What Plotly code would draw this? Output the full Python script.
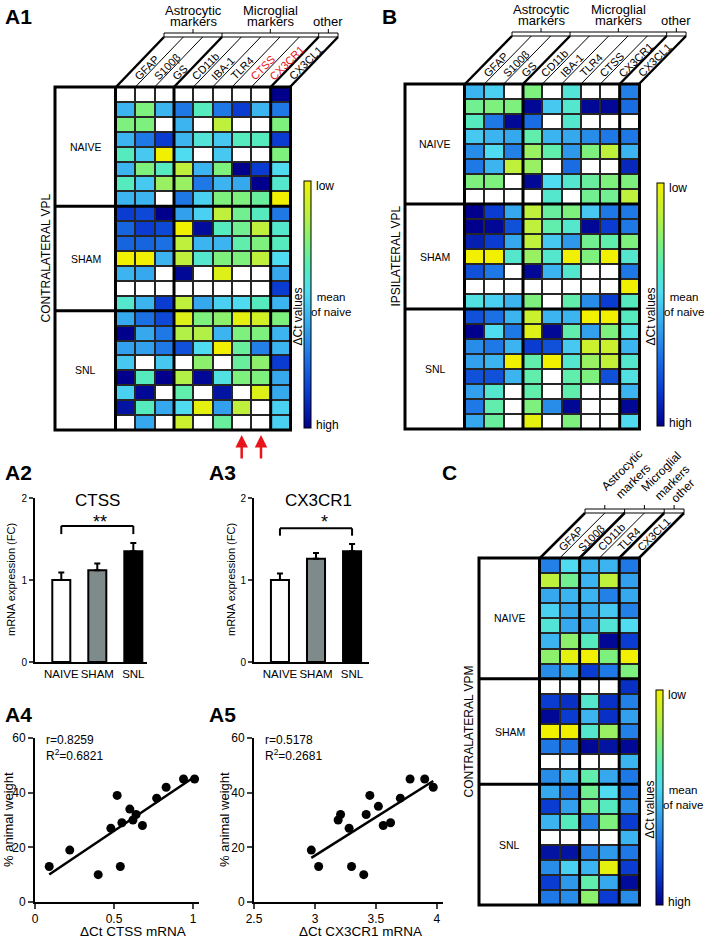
import numpy as np
import plotly.graph_objects as go

W, H = 709, 940
FONT = "Liberation Sans, Arial, sans-serif"

# ---- heatmap values (0 = high dCt / dark blue, 1 = low dCt / yellow, None = no data) ----
vpl_cols = ["GFAP", "S100β", "GS", "CD11b", "IBA-1", "TLR4", "CTSS", "CX3CR1", "CX3CL1"]
vpm_cols = ["GFAP", "S100β", "CD11b", "TLR4", "CX3CL1"]
row_groups = ["NAIVE", "SHAM", "SNL"]

a1_naive = [
    [None, None, None, None, None, None, None, None, 0],
    [.45, .75, .45, .3, .65, .3, .15, .45, .3],
    [.75, .75, None, .45, None, .87, None, None, .75],
    [.45, .3, .15, .45, .6, .5, .65, .65, .15],
    [.65, .5, 1, .55, None, .5, None, None, .75],
    [.45, .75, .65, .87, .45, .75, 0, .15, .55],
    [.65, .5, .8, .8, .3, .45, .42, 0, .62],
    [.45, .45, None, .3, .52, .75, .75, .7, 1],
]
a1_sham = [
    [.15, .18, 0, .4, .52, .87, .72, .65, .3],
    [.25, .15, .18, 1, .03, .65, .72, .87, .62],
    [.25, .25, .28, .87, .45, .45, .68, .75, .65],
    [1, 1, .45, .87, .62, .75, .75, .87, .55],
    [.45, .42, None, .02, None, .95, None, None, .42],
    [None, None, None, None, None, None, None, None, .15],
    [.62, .45, .15, .87, .42, .52, .55, .65, .45],
]
a1_snl = [
    [.42, .28, .18, .95, .75, .78, .97, .92, .75],
    [0, .42, .3, .85, .85, .45, .75, .75, .45],
    [.4, .4, .3, .2, .55, 1, .7, .32, .45],
    [.5, None, .5, None, .78, None, .7, .78, .15],
    [0, .65, 0, .85, .02, .58, .75, .75, .42],
    [.52, .02, None, .68, None, .05, None, .95, .42],
    [.05, .65, .42, .55, .97, .4, .87, None, .52],
    [None, .42, None, .9, None, .7, None, None, .52],
]

b_naive = [
    [.45, .52, None, .75, None, .6, None, None, .32],
    [.72, .75, .75, .02, .5, .62, .02, .02, .27],
    [.65, .3, .02, .27, None, .62, None, None, None],
    [.5, .45, .42, .68, .45, .42, .35, .3, .3],
    [.35, .55, .32, .8, .68, .38, .75, .87, .45],
    [.3, .45, .87, .8, None, .27, None, None, .1],
    [.75, .75, None, .02, .55, .62, .7, .75, .75],
    [None, None, None, None, .62, None, .72, .72, .87],
]
b_sham = [
    [0, .15, .42, .87, .7, .75, .5, .3, .3],
    [0, .02, .2, .87, .68, .62, .02, .15, .3],
    [.08, .15, .42, .87, .5, .38, .72, .68, .75],
    [1, 1, .62, .8, .62, 1, .75, 1, .62],
    [.2, .3, None, .02, .45, .62, None, None, .3],
    [None, None, None, None, None, None, None, None, 1],
    [.58, .52, .45, .75, None, .68, .35, .15, .65],
]
b_snl = [
    [.2, .28, .45, .9, .45, .45, 1, 1, .65],
    [0, .55, .3, .95, .02, .68, .4, .75, .58],
    [.35, .3, .45, .15, .2, .5, .9, .9, .45],
    [.4, .45, 1, .68, 1, .62, .8, .88, .62],
    [.2, .2, .45, .68, None, .68, .75, .2, .58],
    [.4, .62, None, .68, None, .68, None, None, .45],
    [.3, .68, None, .75, .35, .02, None, None, .02],
    [.42, .7, None, .97, None, .75, None, None, .55],
]

c_naive = [
    [.32, .55, .45, .45, .3],
    [.87, .72, .45, .87, .4],
    [.42, .45, .45, .32, .42],
    [.52, .42, .42, .5, .32],
    [.6, .42, .42, .6, .55],
    [.45, .78, .65, .02, .15],
    [.78, .97, 1, .75, 1],
    [.35, .42, .15, .3, .75],
]
c_sham = [
    [None, None, None, None, .12],
    [.15, .12, .62, .12, .32],
    [.02, .15, .45, .12, .4],
    [1, 1, .62, .8, .32],
    [.3, .28, .02, .05, .02],
    [None, None, None, None, .45],
    [.35, .45, .68, .42, .3],
]
c_snl = [
    [.42, .32, .72, .55, .3],
    [.15, .4, .72, .65, .35],
    [.45, .65, .32, .75, .15],
    [None, None, None, None, .45],
    [.05, .05, .32, .38, .3],
    [.35, .52, .45, .97, .15],
    [.15, .38, .68, .42, .03],
    [.3, .35, .78, .15, .35],
]

# ---- bar charts ----
bar_cats = ["NAIVE", "SHAM", "SNL"]
ctss_fc = [1.0, 1.12, 1.35]
ctss_err = [0.09, 0.08, 0.10]
cx3cr1_fc = [1.0, 1.26, 1.35]
cx3cr1_err = [0.08, 0.07, 0.09]

# ---- correlations ----
ctss_dct = [0.09, 0.22, 0.40, 0.48, 0.52, 0.55, 0.54, 0.60, 0.62, 0.64, 0.68, 0.77, 0.83, 0.94, 1.01]
ctss_wt = [13, 19, 10, 27, 39, 29, 13, 34, 30, 32, 28, 38, 42, 45, 45]
cx3_dct = [2.97, 3.03, 3.19, 3.21, 3.28, 3.30, 3.40, 3.42, 3.45, 3.52, 3.56, 3.62, 3.70, 3.78, 3.90, 3.97]
cx3_wt = [19, 13, 30, 32, 27, 13, 10, 32, 39, 35, 28, 29, 38, 45, 45, 42]

CSCALE = [[0.0, "#00008C"], [0.15, "#0A3CD2"], [0.3, "#1E78E6"], [0.45, "#3CB4F0"],
          [0.55, "#50DCF0"], [0.65, "#55EBBE"], [0.75, "#7DF07D"], [0.87, "#BEF03C"],
          [1.0, "#F0F000"]]


def px(x):
    return x / W


def py(y):
    return 1 - y / H


fig = go.Figure()
shapes, annots = [], []


def line(x0, y0, x1, y1, w=1, color="black"):
    shapes.append(dict(type="line", xref="paper", yref="paper", x0=px(x0), y0=py(y0),
                       x1=px(x1), y1=py(y1), line=dict(color=color, width=w)))


def rect(x0, y0, x1, y1, w=1, fill="rgba(0,0,0,0)", layer="above"):
    shapes.append(dict(type="rect", xref="paper", yref="paper", x0=px(x0), y0=py(y0),
                       x1=px(x1), y1=py(y1), fillcolor=fill, layer=layer,
                       line=dict(color="black", width=w)))


def text(x, y, s, size=12, xa="center", ya="middle", angle=0, color="black"):
    annots.append(dict(x=px(x), y=py(y), xref="paper", yref="paper", text=s, showarrow=False,
                       xanchor=xa, yanchor=ya, textangle=angle,
                       font=dict(family=FONT, size=size, color=color)))


def heat_panel(n, groups, cols, col_colors, col_groups, grp_names, cells, box_left, shift,
               top, cbar, region, region_x, rotate_grp=False):
    z = [r for g in groups for r in g]
    x0, x1, y0, y1 = cells
    nc, nr = len(cols), len(z)
    cw, rh = (x1 - x0) / nc, (y1 - y0) / nr
    key = "" if n == 1 else str(n)
    xa, ya = "x" + key, "y" + key
    zz = [[np.nan if v is None else v for v in r] for r in z]
    mask = [[1 if v is None else np.nan for v in r] for r in z]
    rect(x0, y0, x1, y1, w=0, fill="#262626", layer="below")
    fig.add_trace(go.Heatmap(z=mask, zmin=0, zmax=1, colorscale=[[0, "white"], [1, "white"]],
                             showscale=False, xgap=2, ygap=2, xaxis=xa, yaxis=ya,
                             hoverinfo="skip"))
    cx0, cy0, cy1 = cbar
    fig.add_trace(go.Heatmap(
        z=zz, zmin=0, zmax=1, colorscale=CSCALE, xgap=2, ygap=2, xaxis=xa, yaxis=ya,
        colorbar=dict(x=px(cx0), xanchor="left", y=py(cy1), yanchor="bottom",
                      len=cy1 - cy0, lenmode="pixels", thickness=7, thicknessmode="pixels",
                      outlinewidth=1, outlinecolor="black", showticklabels=False, ticks="",
                      xpad=0, ypad=0)))
    fig.update_layout({
        "xaxis" + key: dict(domain=[px(x0), px(x1)], range=[-0.5, nc - 0.5], visible=False,
                            anchor=ya, fixedrange=True),
        "yaxis" + key: dict(domain=[py(y1), py(y0)], range=[nr - 0.5, -0.5], visible=False,
                            anchor=xa, fixedrange=True),
    })
    # row groups
    start = 0
    for name, g in zip(row_groups, groups):
        end = start + len(g)
        text((box_left + x0) / 2, y0 + (start + end) / 2 * rh, name, 10.5)
        if end < nr:
            line(box_left, y0 + end * rh, x1, y0 + end * rh, w=3)
        start = end
    # column groups
    bounds, s = [], 0
    for g in col_groups:
        s += g
        bounds.append(s)
    for b in bounds[:-1]:
        line(x0 + b * cw, y0, x0 + b * cw, y1, w=3)
    rect(box_left, y0, x1 + 0.5, y1, w=3)
    line(x0 - 0.5, y0, x0 - 0.5, y1, w=3)
    # slanted header
    for i in range(nc + 1):
        xb = x0 + i * cw
        wide = i == 0 or i in bounds
        line(xb, y0, xb + shift, top, w=2.5 if wide else 1)
    rect(x0 + shift, top - 4, x1 + shift, top, w=1)
    s = 0
    for gname, g in zip(grp_names, col_groups):
        if s > 0:
            line(x0 + s * cw + shift, top - 4, x0 + s * cw + shift, top, w=1)
        c = x0 + (s + g / 2) * cw + shift
        line(c, top - 4, c, top - 8, w=1)
        if rotate_grp:
            text(c - 9, top - 5, "<br>".join(gname), 12, xa="left", ya="bottom", angle=-45)
        else:
            for k, part in enumerate(reversed(gname)):
                text(c, top - 15 - 11.5 * k, part, 13)
        s += g
    for i, name in enumerate(cols):
        text(x0 + i * cw + 13, y0 - 2, name, 11, xa="left", ya="bottom", angle=-45,
             color=col_colors[i])
    # colour bar labels
    mid = (cy0 + cy1) / 2
    text(cx0 + 10, cy0 + 5, "low", 12, xa="left")
    text(cx0 + 10, cy1 - 3, "high", 12, xa="left")
    text(cx0 + 27, mid, "mean<br>of naive", 11.5)
    text(cx0 - 7, mid + 12, "ΔCt values", 12, angle=-90)
    text(region_x, (y0 + y1) / 2, region, 12, angle=-90)
    return x0, cw


red = "#E8141B"
a1_colors = ["black"] * 6 + [red, red, "black"]
grp_names = [["Astrocytic", "markers"], ["Microglial", "markers"], ["other"]]
ax0, acw = heat_panel(1, [a1_naive, a1_sham, a1_snl], vpl_cols, a1_colors, [3, 5, 1],
                      grp_names, (116, 290, 87, 430), 55, 48, 37, (304, 181, 428),
                      "CONTRALATERAL VPL", 45)
heat_panel(2, [b_naive, b_sham, b_snl], vpl_cols, ["black"] * 9, [3, 5, 1],
           grp_names, (465, 639, 84, 429), 405, 47, 36, (657, 183, 426), "IPSILATERAL VPL", 395)
heat_panel(3, [c_naive, c_sham, c_snl], vpm_cols, ["black"] * 5, [2, 2, 1],
           grp_names, (540, 639, 558, 905), 479, 45, 513, (656, 690, 905), "CONTRALATERAL VPM",
           468, rotate_grp=True)

# red arrows under CTSS / CX3CR1
for i in (6, 7):
    annots.append(dict(x=px(ax0 + (i + 0.5) * acw), y=py(435), xref="paper", yref="paper",
                       text="", showarrow=True, ax=0, ay=25, arrowhead=2, arrowsize=1,
                       arrowwidth=2.5, arrowcolor=red, standoff=0))

# ---- bar panels ----
bar_specs = [
    (4, ctss_fc, ctss_err, "CTSS", (35, 147), (-0.73, 2.38), 1.56, 1.66, "**", 97, 11),
    (5, cx3cr1_fc, cx3cr1_err, "CX3CR1", (254, 369), (-0.72, 2.47), 1.54, 1.63, "*", 318, 231),
]
for n, vals, errs, title, (dx0, dx1), xr, leg, top, star, tx, ylx in bar_specs:
    key = str(n)
    fig.add_trace(go.Bar(
        x=[0, 1, 2], y=vals, width=0.5, xaxis="x" + key, yaxis="y" + key,
        marker=dict(color=["white", "#7F8B8A", "black"], line=dict(color="black", width=2)),
        error_y=dict(type="data", array=errs, arrayminus=[0, 0, 0], symmetric=False,
                     thickness=2, width=3, color="black")))
    fig.update_layout({
        "xaxis" + key: dict(domain=[px(dx0), px(dx1)], range=list(xr), tickvals=[0, 1, 2],
                            ticktext=bar_cats, ticks="", tickangle=0, showline=True,
                            linewidth=2, linecolor="black", showgrid=False, zeroline=False,
                            tickfont=dict(size=11.5), anchor="y" + key, fixedrange=True),
        "yaxis" + key: dict(domain=[py(662), py(498)], range=[0, 2], tickvals=[0, 1, 2],
                            ticks="outside", ticklen=4, tickwidth=1.5, showline=True,
                            linewidth=2, linecolor="black", showgrid=False, zeroline=False,
                            tickfont=dict(size=10), anchor="x" + key, fixedrange=True),
    })
    for (sx0, sy0, sx1, sy1) in [(0, leg, 0, top), (0, top, 2, top), (2, top, 2, leg)]:
        shapes.append(dict(type="line", xref="x" + key, yref="y" + key, x0=sx0, y0=sy0,
                           x1=sx1, y1=sy1, line=dict(color="black", width=2)))
    text(tx, 500, title, 17)
    text((dx0 + dx1) / 2 + (9 if n == 4 else 13), 522, star, 18)
    text(ylx, 580, "mRNA expression (FC)", 11, angle=-90)

# ---- scatter panels ----
sc_specs = [
    (6, ctss_dct, ctss_wt, (35, 199), [0, 1.038], [0, 0.5, 1], ["0", "0.5", "1"],
     "r=0.8259", "R<sup>2</sup>=0.6821", "ΔCt CTSS mRNA", 133, 8),
    (7, cx3_dct, cx3_wt, (254, 443), [2.5, 4.05], [2.5, 3, 3.5, 4], ["2.5", "3", "3.5", "4"],
     "r=0.5178", "R<sup>2</sup>=0.2681", "ΔCt CX3CR1 mRNA", 360, 224),
]
for n, xs, ys, (dx0, dx1), xr, tv, tt, rtxt, r2txt, xlab, xlx, ylx in sc_specs:
    key = str(n)
    k, b0 = np.polyfit(xs, ys, 1)
    xl = np.array([min(xs), max(xs)])
    fig.add_trace(go.Scatter(x=xl, y=k * xl + b0, mode="lines", xaxis="x" + key,
                             yaxis="y" + key, line=dict(color="black", width=2.5)))
    fig.add_trace(go.Scatter(x=xs, y=ys, mode="markers", xaxis="x" + key, yaxis="y" + key,
                             marker=dict(color="black", size=9), cliponaxis=False))
    fig.update_layout({
        "xaxis" + key: dict(domain=[px(dx0), px(dx1)], range=xr, tickvals=tv, ticktext=tt,
                            ticks="outside", ticklen=5, tickwidth=2, showline=True,
                            linewidth=2, linecolor="black", showgrid=False, zeroline=False,
                            tickfont=dict(size=12), anchor="y" + key, fixedrange=True),
        "yaxis" + key: dict(domain=[py(902), py(738)], range=[0, 60], tickvals=[0, 20, 40, 60],
                            ticks="outside", ticklen=5, tickwidth=2, showline=True,
                            linewidth=2, linecolor="black", showgrid=False, zeroline=False,
                            tickfont=dict(size=12), anchor="x" + key, fixedrange=True),
    })
    text(dx0 + 9, 740, rtxt, 12, xa="left")
    text(dx0 + 9, 755, r2txt, 12, xa="left")
    text(xlx, 931, xlab, 13.5)
    text(ylx, 820, "% animal weight", 13, angle=-90)

# panel letters
for lab, lx, ly in [("A1", 3, 3), ("B", 380, 3), ("A2", 3, 459), ("A3", 207, 459),
                    ("C", 440, 459), ("A4", 3, 701), ("A5", 207, 701)]:
    text(lx, ly, "<b>" + lab + "</b>", 21, xa="left", ya="top")

fig.update_layout(width=W, height=H, margin=dict(l=0, r=0, t=0, b=0, autoexpand=False),
                  paper_bgcolor="white", plot_bgcolor="white", showlegend=False,
                  font=dict(family=FONT, color="black"), shapes=shapes, annotations=annots)
fig.write_html("out.html", config={"displayModeBar": False},
               post_script="document.body.style.margin='0';document.body.style.overflow='hidden';")
